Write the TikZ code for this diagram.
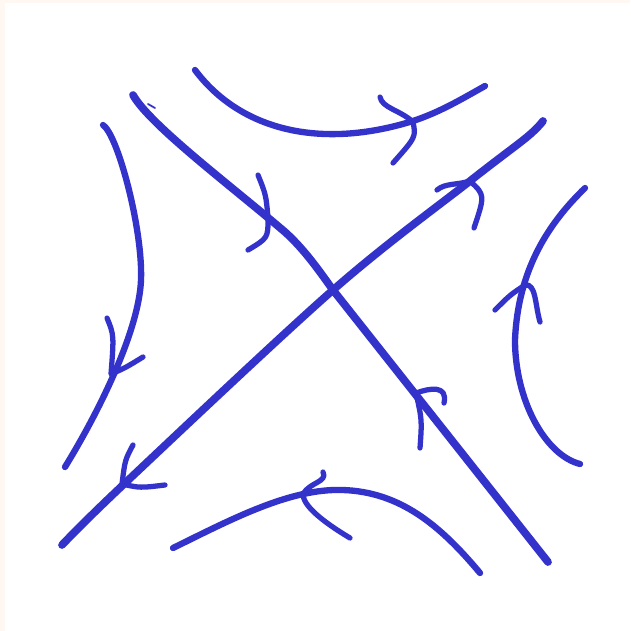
\documentclass[tikz,border=0pt]{standalone}
\definecolor{ink}{RGB}{51,51,204}
\definecolor{paper}{RGB}{255,248,242}
\begin{document}
\begin{tikzpicture}[x=0.02cm, y=-0.02cm, line cap=round, line join=round]
        \tikzstyle{manifold} = [draw=ink, line width=4.4pt]
        \tikzstyle{orbit} = [draw=ink, line width=3.6pt]
        \tikzstyle{barb} = [draw=ink, line width=3pt]

        \fill[paper] (0,0) rectangle (630,631);
        \fill[white] (5,3) rectangle (630,631);
        \useasboundingbox (0,0) rectangle (630,631);

        \draw[manifold] (133,95) .. controls (150,125) and (230,185) .. (285,232) .. controls (305,250) and (320,272) .. (333,290) -- (548,562);
        \draw[manifold] plot[smooth, tension=0.55] coordinates {(62,545) (123,485) (333,290) (470,181) (527,137) (543,121)};

        \draw[barb] (258,175) .. controls (266,195) .. (268,218) .. controls (268,238) .. (248,250);
        \draw[barb] (420,448) .. controls (422,420) .. (416,393) .. controls (430,388) and (448,385) .. (444,403);
        \draw[barb] (437,190) .. controls (445,183) and (458,185) .. (470,181) .. controls (485,195) .. (474,228);
        \draw[barb] (133,445) .. controls (125,460) .. (122,484) .. controls (140,488) .. (165,485);

        \draw[orbit] (195,70) .. controls (240,130) and (320,150) .. (413,121) .. controls (440,112) and (460,100) .. (485,86);
        \draw[barb] (380,97) .. controls (382,108) and (400,110) .. (413,122) .. controls (416,137) .. (393,163);

        \draw[orbit] (103,125) .. controls (118,135) and (143,230) .. (141,280) .. controls (139,330) and (100,410) .. (65,467);
        \draw[barb] (107,318) .. controls (114,335) .. (111,374) .. controls (125,368) .. (143,357);

        \draw[orbit] (585,188) .. controls (550,222) and (518,268) .. (515,340) .. controls (515,400) and (545,455) .. (580,464);
        \draw[barb] (495,310) .. controls (510,295) .. (525,285) .. controls (536,283) and (535,305) .. (540,322);

        \draw[orbit] (173,548) .. controls (230,520) and (290,488) .. (343,490) .. controls (400,492) and (440,525) .. (480,573);
        \draw[barb] (323,472) .. controls (328,482) and (310,482) .. (303,494) .. controls (303,505) and (320,520) .. (350,538);

        \draw[ink, line width=1pt] (148,104) -- (155,108);
\end{tikzpicture}
\end{document}
